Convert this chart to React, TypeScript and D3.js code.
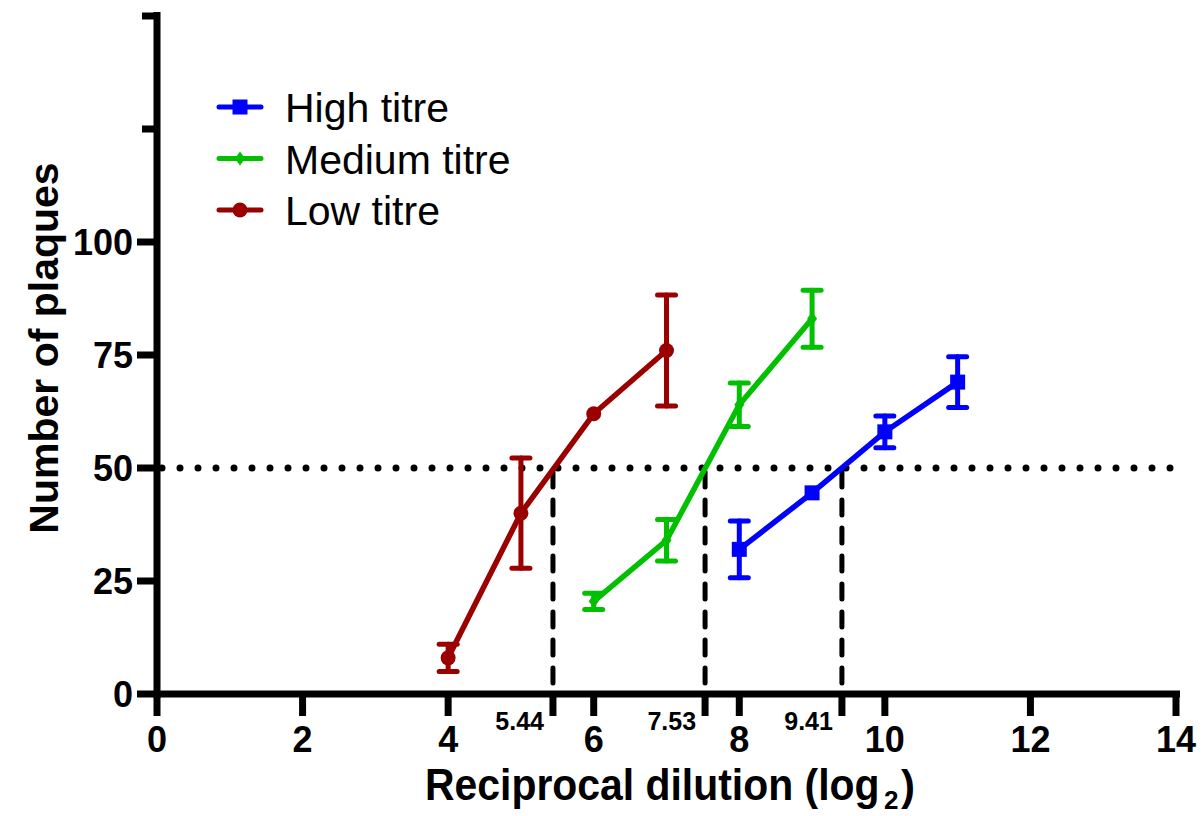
import React from 'react';
import * as d3 from 'd3';

const highX = [8, 9, 10, 11];
const highY = [32, 44.5, 58, 69];
const highErr = [6.3, 0, 3.5, 5.6];

const mediumX = [6, 7, 8, 9];
const mediumY = [20.5, 34, 64, 83];
const mediumErr = [1.8, 4.6, 4.8, 6.3];

const lowX = [4, 5, 6, 7];
const lowY = [8, 40, 62, 76];
const lowErr = [3, 12.2, 0, 12.3];

const xTicks = [0, 2, 4, 6, 8, 10, 12, 14];
const yTicks = [0, 25, 50, 75, 100];
const yMinorTicks = [125, 150];
const endpoints = [5.44, 7.53, 9.41];
const cutoff = 50;

const series = [
  { name: 'High titre', color: '#0000FF', shape: 'square', xs: highX, ys: highY, err: highErr },
  { name: 'Medium titre', color: '#00C000', shape: 'diamond', xs: mediumX, ys: mediumY, err: mediumErr },
  { name: 'Low titre', color: '#9B0000', shape: 'circle', xs: lowX, ys: lowY, err: lowErr },
];

const font = '"Liberation Sans", Arial, sans-serif';

const Marker = ({ shape, cx, cy, color }) => {
  if (shape === 'square') return <rect x={cx - 7.5} y={cy - 7.5} width={15} height={15} fill={color} />;
  if (shape === 'diamond') {
    return <path d={`M${cx},${cy - 7}L${cx + 5},${cy}L${cx},${cy + 7}L${cx - 5},${cy}Z`} fill={color} />;
  }
  return <circle cx={cx} cy={cy} r={7.5} fill={color} />;
};

export default function App() {
  const width = 1204;
  const height = 816;
  const x = d3.scaleLinear().domain([0, 14]).range([157, 1176]);
  const y = d3.scaleLinear().domain([0, 150]).range([694, 16]);

  const line = d3.line<[number, number]>()
    .x(d => x(d[0]))
    .y(d => y(d[1]));

  return (
    <svg width={width} height={height} style={{ position: 'absolute', left: 0, top: 0 }}>
      <rect width={width} height={height} fill="#fff" />

      {/* cutoff line */}
      <line x1={x(0) + 5} x2={x(14)} y1={y(cutoff)} y2={y(cutoff)}
        stroke="#000" strokeWidth={7} strokeLinecap="round" strokeDasharray="0 18" />

      {/* endpoint drops */}
      {endpoints.map(e => (
        <g key={e}>
          <line x1={x(e)} x2={x(e)} y1={y(cutoff) + 4} y2={y(0)}
            stroke="#000" strokeWidth={5} strokeLinecap="round" strokeDasharray="15 13" />
          <line x1={x(e)} x2={x(e)} y1={y(0)} y2={716} stroke="#000" strokeWidth={7} />
          <text x={x(e) - 9} y={730} textAnchor="end" fontFamily={font} fontWeight="bold"
            fontSize={25}>{e.toFixed(2)}</text>
        </g>
      ))}

      {/* axes */}
      <line x1={x(0)} x2={x(0)} y1={y(150) - 4} y2={y(0) + 4} stroke="#000" strokeWidth={7} />
      <line x1={x(0) - 3} x2={x(14) + 4} y1={y(0)} y2={y(0)} stroke="#000" strokeWidth={7} />
      {yMinorTicks.map(t => (
        <line key={t} x1={x(0) - 15} x2={x(0)} y1={y(t)} y2={y(t)} stroke="#000" strokeWidth={7} />
      ))}
      {yTicks.map(t => (
        <g key={t}>
          <line x1={x(0) - 20} x2={x(0)} y1={y(t)} y2={y(t)} stroke="#000" strokeWidth={7} />
          <text x={x(0) - 24} y={y(t)} dy="0.36em" textAnchor="end" fontFamily={font}
            fontWeight="bold" fontSize={36}>{t}</text>
        </g>
      ))}
      {xTicks.map(t => (
        <g key={t}>
          <line x1={x(t)} x2={x(t)} y1={y(0)} y2={716} stroke="#000" strokeWidth={7} />
          <text x={x(t)} y={752} textAnchor="middle" fontFamily={font} fontWeight="bold"
            fontSize={36}>{t}</text>
        </g>
      ))}

      {/* series */}
      {series.map(s => {
        const pts = s.xs.map((v, i) => [v, s.ys[i]] as [number, number]);
        return (
          <g key={s.name}>
            <path d={line(pts) || ''} fill="none" stroke={s.color} strokeWidth={5.5} />
            {pts.map((p, i) => {
              const e = s.err[i];
              if (!e) return null;
              const cx = x(p[0]);
              return (
                <g key={i} stroke={s.color} strokeWidth={5} strokeLinecap="round">
                  <line x1={cx} x2={cx} y1={y(p[1] - e)} y2={y(p[1] + e)} />
                  <line x1={cx - 9} x2={cx + 9} y1={y(p[1] - e)} y2={y(p[1] - e)} />
                  <line x1={cx - 9} x2={cx + 9} y1={y(p[1] + e)} y2={y(p[1] + e)} />
                </g>
              );
            })}
            {pts.map((p, i) => (
              <Marker key={'m' + i} shape={s.shape} cx={x(p[0])} cy={y(p[1])} color={s.color} />
            ))}
          </g>
        );
      })}

      {/* legend */}
      {series.map((s, i) => {
        const ly = 107 + i * 51.5;
        return (
          <g key={s.name}>
            <line x1={219} x2={261} y1={ly} y2={ly} stroke={s.color} strokeWidth={5} strokeLinecap="round" />
            <Marker shape={s.shape} cx={240} cy={ly} color={s.color} />
            <text x={285} y={ly + 15} fontFamily={font} fontSize={41}>{s.name}</text>
          </g>
        );
      })}

      {/* axis titles */}
      <text transform="translate(58,348) rotate(-90)" textAnchor="middle" fontFamily={font}
        fontWeight="bold" fontSize={41}>Number of plaques</text>
      <text transform="translate(425,800) scale(0.93,1)" fontFamily={font}
        fontWeight="bold" fontSize={44}>Reciprocal dilution (log</text>
      <text x={884} y={809} fontFamily={font} fontWeight="bold" fontSize={26}>2</text>
      <text x={901} y={800} fontFamily={font} fontWeight="bold" fontSize={42}>)</text>
    </svg>
  );
}
